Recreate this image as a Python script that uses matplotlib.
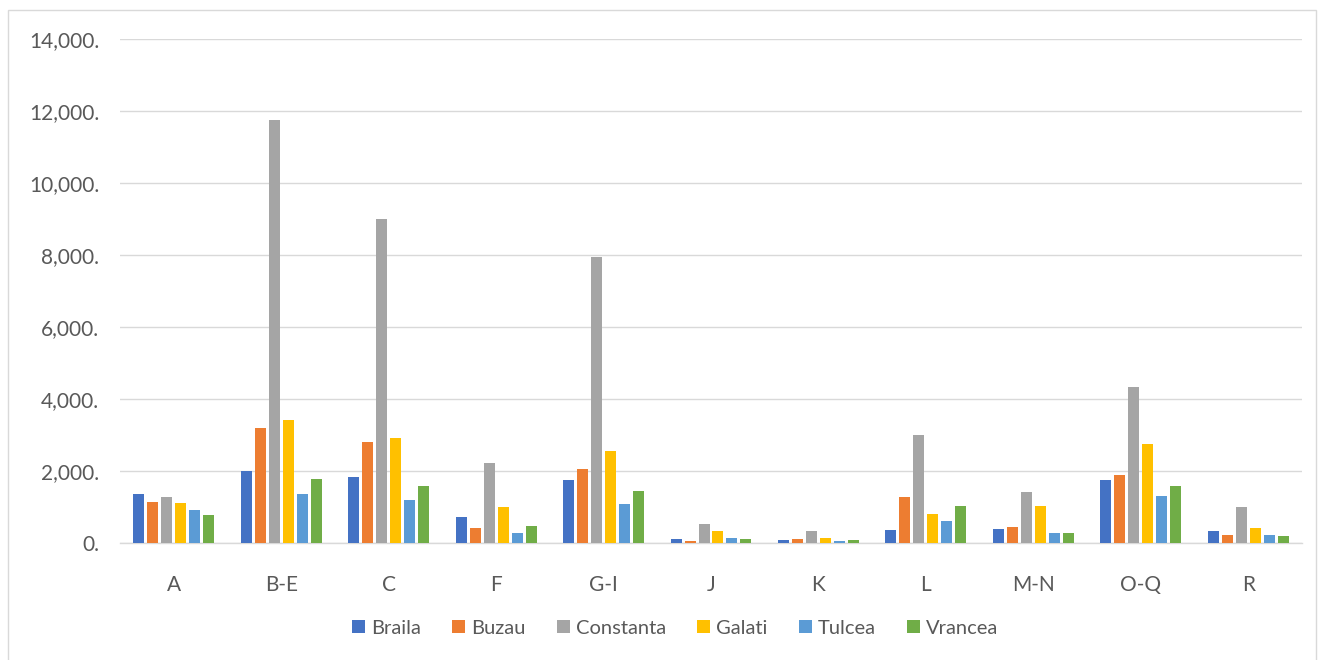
import numpy as np
import matplotlib.pyplot as plt
from matplotlib.patches import Rectangle
from matplotlib.ticker import FuncFormatter

categories = ["A", "B-E", "C", "F", "G-I", "J", "K", "L", "M-N", "O-Q", "R"]
counties = ["Braila", "Buzau", "Constanta", "Galati", "Tulcea", "Vrancea"]
colors = ["#4472C4", "#ED7D31", "#A5A5A5", "#FFC000", "#5B9BD5", "#70AD47"]

braila = [1372, 1992, 1844, 733, 1750, 122, 94, 372, 389, 1761, 344]
buzau = [1139, 3206, 2806, 417, 2067, 67, 122, 1269, 436, 1881, 233]
constanta = [1289, 11750, 9000, 2233, 7950, 539, 325, 3011, 1417, 4344, 1011]
galati = [1103, 3408, 2928, 992, 2567, 325, 150, 817, 1039, 2742, 417]
tulcea = [928, 1353, 1194, 289, 1083, 139, 47, 603, 269, 1306, 222]
vrancea = [778, 1769, 1594, 483, 1456, 103, 75, 1039, 278, 1594, 194]
series = [braila, buzau, constanta, galati, tulcea, vrancea]

plt.rcParams["font.family"] = ["Lato", "DejaVu Sans"]
text_color = "#595959"

W, H = 1320, 660
fig = plt.figure(figsize=(13.2, 6.6), dpi=100)
fig.patches.append(Rectangle((8 / W, -0.01), (1316 - 8) / W, 1 - 10 / H + 0.01,
                             transform=fig.transFigure, fill=False,
                             edgecolor="#D9D9D9", linewidth=1))

ax = fig.add_axes([120 / W, (H - 543) / H, 1182 / W, 504 / H])

x = np.arange(len(categories))
step = 14 / 107.5
width = 11 / 107.5
offsets = (np.arange(len(series)) - (len(series) - 1) / 2) * step
for vals, name, col, off in zip(series, counties, colors, offsets):
    ax.bar(x + off, vals, width=width, color=col, label=name, zorder=3)

ax.set_xlim(-0.5, len(categories) - 0.5)
ax.set_ylim(0, 14000)
ax.set_yticks(np.arange(0, 14001, 2000))
ax.yaxis.set_major_formatter(FuncFormatter(lambda v, p: "{:,.0f}.".format(v)))
ax.set_xticks(x)
ax.set_xticklabels(categories)
ax.grid(axis="y", color="#D9D9D9", linewidth=1, zorder=0)
for s in ["top", "right", "left"]:
    ax.spines[s].set_visible(False)
ax.spines["bottom"].set_color("#D9D9D9")
ax.spines["bottom"].set_linewidth(1)
ax.tick_params(axis="both", length=0, colors=text_color, labelsize=15)
ax.tick_params(axis="x", pad=23)
ax.tick_params(axis="y", pad=15)

ax.legend(loc="center", bbox_to_anchor=(675 / W, (H - 628) / H),
          bbox_transform=fig.transFigure, ncol=6, frameon=False,
          handlelength=0.65, handleheight=0.65, handletextpad=0.3,
          columnspacing=1.55, fontsize=14.5, labelcolor=text_color)

fig.savefig("out.png", dpi=100, facecolor="white")
